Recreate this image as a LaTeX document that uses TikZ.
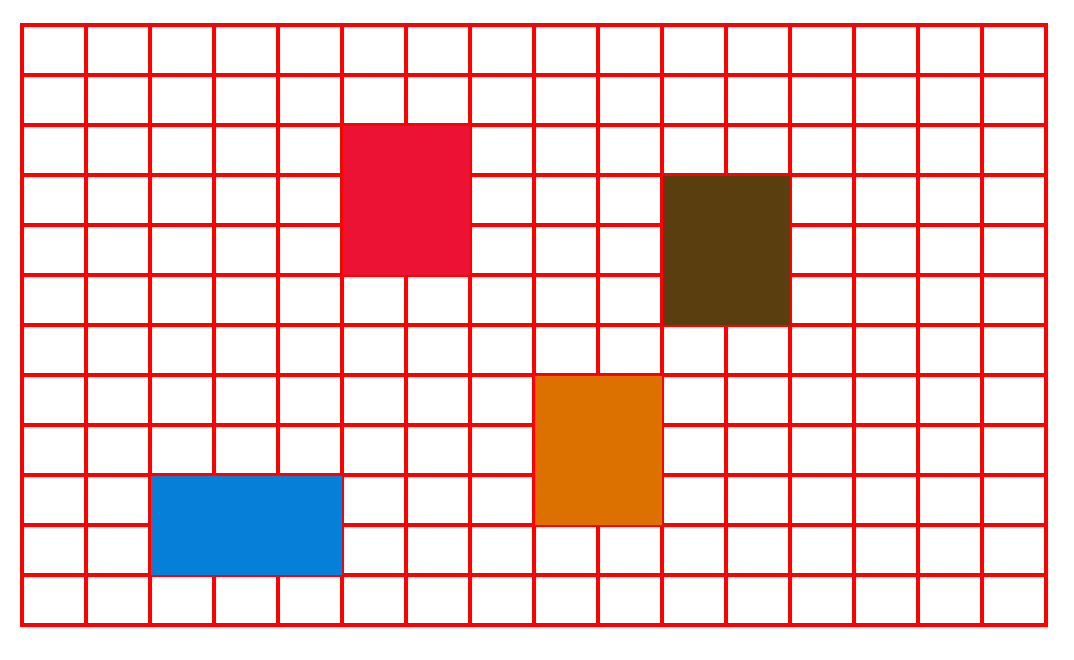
\documentclass[tikz,border=0pt]{standalone}
\usepackage{color}
\usepackage{tikz}

\definecolor{cellred}{RGB}{235,18,52}
\definecolor{cellbrown}{RGB}{91,62,16}
\definecolor{cellorange}{RGB}{221,113,0}
\definecolor{cellblue}{RGB}{5,127,216}

\begin{document}
\begin{tikzpicture}[x=1pt,y=-1pt,
  gridline/.style={draw=red,line width=3.5pt,line cap=rect},
  block/.style={draw=red,line width=1pt}]
\useasboundingbox (0,0) rectangle (1074,659);
% objects at depth 100:
\foreach \i in {0,...,16}
  \path[gridline] (22+64*\i,25) -- (22+64*\i,625);
\foreach \j in {0,...,12}
  \path[gridline] (22,25+50*\j) -- (1046,25+50*\j);
% objects at depth 50:
\path[block,fill=cellred] (342,125) rectangle (470,275);
\path[block,fill=cellbrown] (662,175) rectangle (790,325);
\path[block,fill=cellorange] (534,375) rectangle (662,525);
\path[block,fill=cellblue] (150,475) rectangle (342,575);
\end{tikzpicture}
\end{document}
